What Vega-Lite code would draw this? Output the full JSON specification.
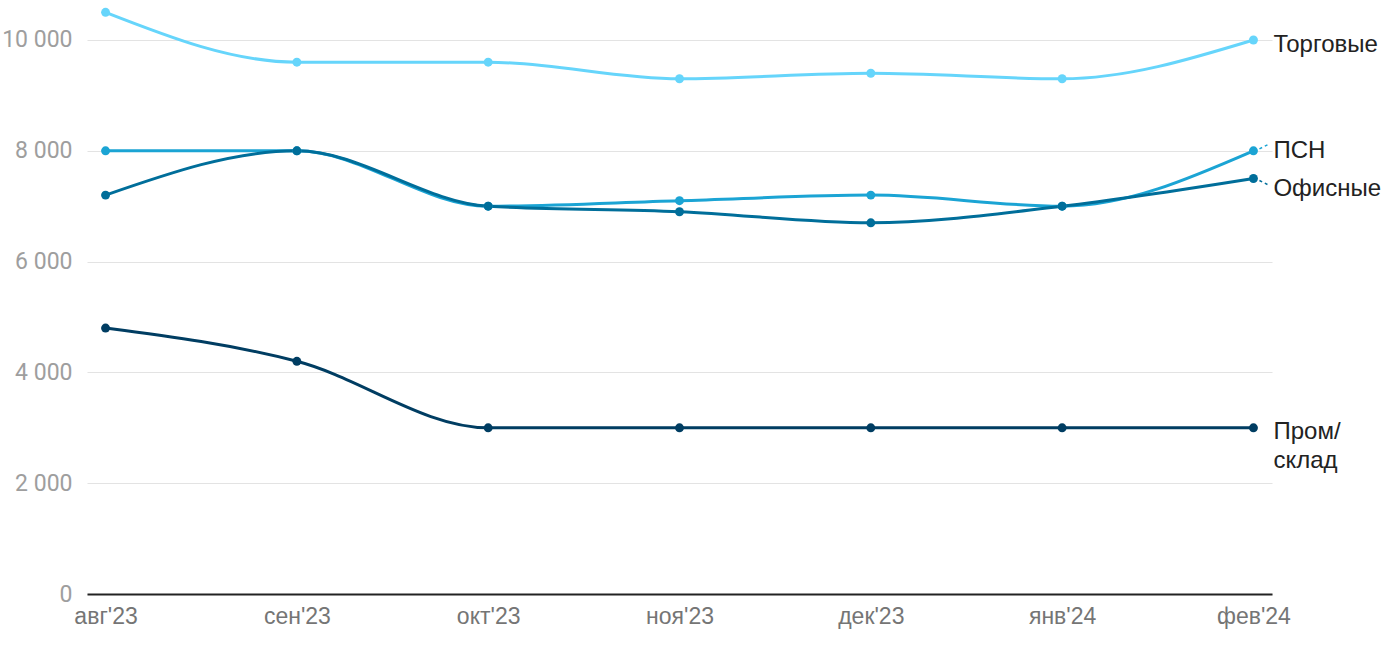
{
  "$schema": "https://vega.github.io/schema/vega-lite/v6.json",
  "width": 1185,
  "height": 594,
  "autosize": {"type": "none"},
  "padding": {"left": 87, "top": 0, "right": 128, "bottom": 56},
  "background": "white",
  "config": {
    "view": {"stroke": null},
    "font": "Liberation Sans",
    "locale": {"number": {"decimal": ",", "thousands": "\u00a0", "grouping": [3], "currency": ["", ""]}}
  },
  "data": {
    "values": [
      {"month": "авг'23", "cat": "Торговые", "v": 10500},
      {"month": "сен'23", "cat": "Торговые", "v": 9600},
      {"month": "окт'23", "cat": "Торговые", "v": 9600},
      {"month": "ноя'23", "cat": "Торговые", "v": 9300},
      {"month": "дек'23", "cat": "Торговые", "v": 9400},
      {"month": "янв'24", "cat": "Торговые", "v": 9300},
      {"month": "фев'24", "cat": "Торговые", "v": 10000},
      {"month": "авг'23", "cat": "ПСН", "v": 8000},
      {"month": "сен'23", "cat": "ПСН", "v": 8000},
      {"month": "окт'23", "cat": "ПСН", "v": 7000},
      {"month": "ноя'23", "cat": "ПСН", "v": 7100},
      {"month": "дек'23", "cat": "ПСН", "v": 7200},
      {"month": "янв'24", "cat": "ПСН", "v": 7000},
      {"month": "фев'24", "cat": "ПСН", "v": 8000},
      {"month": "авг'23", "cat": "Офисные", "v": 7200},
      {"month": "сен'23", "cat": "Офисные", "v": 8000},
      {"month": "окт'23", "cat": "Офисные", "v": 7000},
      {"month": "ноя'23", "cat": "Офисные", "v": 6900},
      {"month": "дек'23", "cat": "Офисные", "v": 6700},
      {"month": "янв'24", "cat": "Офисные", "v": 7000},
      {"month": "фев'24", "cat": "Офисные", "v": 7500},
      {"month": "авг'23", "cat": "Пром/склад", "v": 4800},
      {"month": "сен'23", "cat": "Пром/склад", "v": 4200},
      {"month": "окт'23", "cat": "Пром/склад", "v": 3000},
      {"month": "ноя'23", "cat": "Пром/склад", "v": 3000},
      {"month": "дек'23", "cat": "Пром/склад", "v": 3000},
      {"month": "янв'24", "cat": "Пром/склад", "v": 3000},
      {"month": "фев'24", "cat": "Пром/склад", "v": 3000}
    ]
  },
  "encoding": {
    "x": {
      "field": "month", "type": "ordinal",
      "sort": ["авг'23", "сен'23", "окт'23", "ноя'23", "дек'23", "янв'24", "фев'24"],
      "scale": {"type": "point", "padding": 0.097},
      "axis": {
        "title": null, "labelAngle": 0, "labelFontSize": 23, "labelColor": "#757575",
        "labelPadding": 11, "ticks": false, "domainColor": "#222222", "domainWidth": 2, "grid": false
      }
    },
    "y": {
      "field": "v", "type": "quantitative",
      "scale": {"domain": [0, 10722], "nice": false, "zero": true},
      "axis": {
        "title": null, "values": [0, 2000, 4000, 6000, 8000, 10000], "format": ",d",
        "labelFont": "Roboto", "labelFontSize": 23, "labelColor": "#9e9e9e", "labelPadding": 15, "ticks": false,
        "domain": false, "gridColor": "#e3e3e3", "gridWidth": 1
      }
    },
    "color": {
      "field": "cat", "type": "nominal",
      "scale": {
        "domain": ["Торговые", "ПСН", "Офисные", "Пром/склад"],
        "range": ["#66d5fb", "#1ba4d4", "#006e9a", "#003d62"]
      },
      "legend": null
    }
  },
  "layer": [
    {"mark": {"type": "line", "interpolate": "monotone", "strokeWidth": 3}},
    {"mark": {"type": "point", "filled": true, "size": 80, "opacity": 1}},
    {
      "transform": [{"filter": "datum.month == \"фев'24\" && datum.cat == 'ПСН'"}],
      "mark": {"type": "rule", "strokeWidth": 1.5, "strokeDash": [3, 3], "xOffset": 6, "x2Offset": 14, "yOffset": -2, "y2Offset": -6},
      "encoding": {"x2": {"field": "month"}, "y2": {"field": "v"}}
    },
    {
      "transform": [{"filter": "datum.month == \"фев'24\" && datum.cat == 'Офисные'"}],
      "mark": {"type": "rule", "strokeWidth": 1.5, "strokeDash": [3, 3], "xOffset": 6, "x2Offset": 14, "yOffset": 2, "y2Offset": 6},
      "encoding": {"x2": {"field": "month"}, "y2": {"field": "v"}}
    },
    {
      "transform": [{"filter": "datum.month == \"фев'24\" && datum.cat == 'Торговые'"}],
      "mark": {"type": "text", "align": "left", "baseline": "middle", "dx": 20, "dy": 5, "fontSize": 24, "color": "#222222"},
      "encoding": {"text": {"field": "cat"}, "color": {"value": "#222222"}}
    },
    {
      "transform": [{"filter": "datum.month == \"фев'24\" && datum.cat == 'ПСН'"}],
      "mark": {"type": "text", "align": "left", "baseline": "middle", "dx": 20, "dy": 0, "fontSize": 24, "color": "#222222"},
      "encoding": {"text": {"field": "cat"}, "color": {"value": "#222222"}}
    },
    {
      "transform": [{"filter": "datum.month == \"фев'24\" && datum.cat == 'Офисные'"}],
      "mark": {"type": "text", "align": "left", "baseline": "middle", "dx": 20, "dy": 11, "fontSize": 24, "color": "#222222"},
      "encoding": {"text": {"field": "cat"}, "color": {"value": "#222222"}}
    },
    {
      "transform": [{"filter": "datum.month == \"фев'24\" && datum.cat == 'Пром/склад'"}],
      "mark": {"type": "text", "align": "left", "baseline": "middle", "dx": 20, "dy": 4, "fontSize": 24, "lineHeight": 29, "color": "#222222", "text": ["Пром/", "склад"]},
      "encoding": {"color": {"value": "#222222"}}
    }
  ]
}
